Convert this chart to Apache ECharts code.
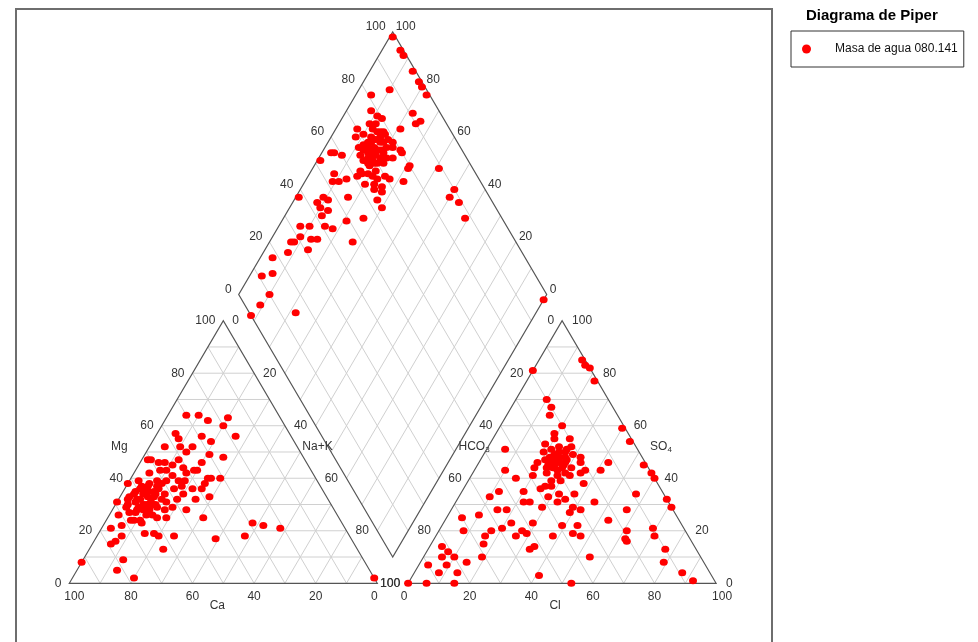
<!DOCTYPE html>
<html><head><meta charset="utf-8">
<script src="https://cdn.jsdelivr.net/npm/echarts@6/dist/echarts.min.js"></script>
<style>html,body{margin:0;padding:0;background:#fff}#c{width:978px;height:642px}</style>
</head><body><div id="c"></div>
<script>
const seriesName = 'Masa de agua 080.141';
const chartTitle = 'Diagrama de Piper';
const tickValues = [0, 20, 40, 60, 80, 100];
const axisNames = { ca: 'Ca', mg: 'Mg', nak: 'Na+K', hco3: ['HCO', '3'], so4: ['SO', '4'], cl: 'Cl' };

// Cation triangle samples: [Ca, Mg, Na+K] (%)
const cations = [[92,8,0],[82,5,13],[78,9,13],[78,2,20],[79,15,6],[77,16,7],[76,21,3],[72,22,6],[74,18,8],[66,19,15],[63,19,18],[62,18,20],[63,13,24],[57,18,25],[44,17,39],[34,18,48],[29,23,48],[26,22,52],[21,21,58],[0,2,98],[44,25,31],[48,28,24],[38,33,29],[31,40,29],[34,40,26],[35,40,25],[37,38,25],[26,48,26],[30,49,21],[34,46,20],[37,43,20],[38,43,19],[41,44,15],[41,47,12],[37,50,13],[38,52,10],[37,55,8],[37,57,6],[34,52,14],[29,56,15],[27,54,19],[18,56,26],[20,60,20],[17,63,20],[24,62,14],[26,64,10],[30,64,6],[43,52,5],[50,47,3],[48,46,6],[46,46,8],[62,38,0],[69,31,0],[71,26,3],[67,29,4],[65,27,8],[65,24,11],[61,27,12],[59,25,16],[56,25,19],[52,29,19],[49,32,19],[46,34,20],[42,36,22],[43,32,25],[39,36,25],[43,39,18],[45,39,16],[48,36,16],[49,39,12],[46,41,13],[53,36,11],[55,34,11],[61,32,7],[62,34,4],[59,36,5],[56,37,7],[53,42,5],[49,43,8],[47,43,10],[44,45,11],[51,47,2],[63,29,8],[62,28,10],[58,31,11],[57,29,14],[62,32,6],[64,33,3],[65,32,3],[67,24,9],[68,24,8],[54,32,14],[58,39,3],[58,37,5],[52,39,9],[45,37,18],[41,42,17],[61,30,9],[58,33,9],[67,27,6],[57,30,13],[57,35,8],[60,26,14],[53,31,16],[55,28,17],[52,34,14],[65,23,12],[60,30,10],[63,31,6],[59,34,7],[56,33,11],[64,28,8],[60,28,12],[57,36,7],[66,30,4],[61,35,4],[55,35,10],[58,30,12],[62,26,12],[53,37,10],[51,38,11],[55,38,7]];

// Anion triangle samples: [HCO3, SO4, Cl] (%)
const anions = [[100,0,0],[94,0,6],[85,0,15],[47,0,53],[56,3,41],[90,7,3],[88,4,8],[84,7,9],[82,4,14],[84,10,6],[82,14,4],[81,12,7],[80,10,10],[77,8,15],[71,10,19],[68,15,17],[66,18,16],[63,20,17],[72,20,8],[70,25,5],[64,26,10],[57,28,15],[54,28,18],[59,21,20],[55,23,22],[56,18,26],[53,20,27],[52,19,29],[54,13,33],[52,14,34],[48,23,29],[47,31,22],[45,31,24],[42,29,29],[45,35,20],[45,40,15],[47,43,10],[43,51,6],[57,33,10],[53,35,12],[44,18,38],[39,22,39],[37,19,44],[34,22,44],[36,10,54],[35,18,47],[34,27,39],[32,29,39],[30,28,42],[24,31,45],[23,24,53],[15,28,57],[19,20,61],[21,17,62],[21,16,63],[9,34,57],[10,21,69],[11,18,71],[10,13,77],[13,8,79],[9,4,87],[7,1,92],[0,29,71],[0,32,68],[0,40,60],[0,42,58],[1,45,54],[1,54,45],[1,59,40],[12,46,42],[16,43,41],[1,77,22],[0,82,18],[1,85,14],[1,83,16],[19,81,0],[20,70,10],[20,67,13],[22,64,14],[20,60,20],[24,57,19],[20,55,25],[21,52,27],[20,48,32],[21,43,36],[24,38,38],[29,34,37],[33,32,35],[34,34,32],[35,37,28],[39,36,25],[39,41,20],[35,46,19],[31,50,19],[29,53,18],[30,48,22],[31,44,25],[31,41,28],[34,42,24],[27,48,25],[28,44,28],[25,48,27],[25,44,31],[27,41,32],[23,42,35],[28,51,21],[25,52,23],[28,42,30],[31,39,30],[38,33,29],[36,31,33],[37,44,19],[25,55,20],[21,46,33],[37,37,26],[28,46,26],[32,45,23],[22,49,29],[30,43,27],[32,47,21],[34,39,27],[26,50,24],[29,47,24],[27,45,28],[25,47,28],[31,46,23],[24,50,26],[33,44,23],[30,45,25],[26,46,28],[23,51,26],[28,49,23]];

// Diamond samples: [Na+K, SO4+Cl] (%)
const diamondPts = [[1,99],[6,99],[8,99],[14,99],[18,99],[20,99],[23,99],[10,88],[22,91],[26,92],[25,90],[21,84],[21,79],[22,78],[26,80],[31,80],[31,79],[32,75],[27,71],[41,89],[50,90],[50,87],[54,89],[59,88],[100,98],[5,81],[8,78],[11,79],[13,80],[12,77],[16,78],[16,76],[13,73],[7,70],[8,68],[13,71],[16,72],[17,75],[17,78],[20,76],[20,74],[18,71],[15,69],[13,66],[11,67],[15,66],[18,67],[20,70],[22,72],[19,65],[16,63],[16,61],[20,62],[23,65],[23,67],[26,67],[24,64],[27,66],[27,63],[30,63],[26,55],[27,47],[21,49],[17,54],[13,57],[11,54],[8,54],[7,60],[4,58],[3,57],[1,52],[9,52],[9,46],[8,43],[10,43],[13,45],[11,47],[12,42],[1,38],[7,33],[10,36],[13,34],[15,41],[18,43],[15,36],[7,27],[8,28],[9,31],[8,24],[14,31],[4,18],[4,11],[7,15],[10,10],[9,5],[22,15],[8,0],[12,75],[10,71],[10,75],[15,74],[16,71],[18,73],[17,67],[17,63],[21,66],[24,76],[25,80],[25,70],[14,70],[19,69],[12,69],[21,68],[18,76],[14,76],[15,77],[19,74],[13,68],[17,70],[20,72],[14,72],[19,78],[16,68],[22,74],[18,69]];

// ---- geometry (ternary -> cartesian data space) ----
const GAP = 10;
const H = Math.sqrt(3) / 2;
function catXY(ca, mg, na) { return [na + mg / 2, mg * H]; }
function anXY(hco3, so4, cl) { return [100 + GAP + cl + so4 / 2, so4 * H]; }
function diaXY(na, sc) {
  const p = 1 - na / 100, q = sc / 100;
  return [100 + GAP / 2 - 50 * p + 50 * q, GAP * H + 100 * H * (p + q)];
}

const FONT = '"Liberation Sans", Arial, sans-serif';
const TXT = '#333';

function renderFrame(params, api) {
  const children = [];
  const GRIDC = '#d0d0d0', EDGE = '#555';
  function line(a, b, color, w) {
    const p = api.coord(a), q = api.coord(b);
    children.push({ type: 'line', shape: { x1: p[0], y1: p[1], x2: q[0], y2: q[1] }, style: { stroke: color, lineWidth: w } });
  }
  function poly(pts) {
    children.push({ type: 'polygon', shape: { points: pts.map(function (d) { return api.coord(d); }) }, style: { fill: 'none', stroke: EDGE, lineWidth: 1.2 } });
  }
  function text(xy, s, dx, dy, align) {
    const p = api.coord(xy);
    children.push({ type: 'text', x: p[0] + dx, y: p[1] + dy, style: { text: s, fill: TXT, font: '12px ' + FONT, align: align, verticalAlign: 'middle', textAlign: align, textVerticalAlign: 'middle' } });
  }
  function subText(xy, parts, dx, dy, align) {
    const p = api.coord(xy);
    children.push({ type: 'text', x: p[0] + dx, y: p[1] + dy, style: {
      text: '{a|' + parts[0] + '}{b|' + parts[1] + '}', fill: TXT, align: align, verticalAlign: 'middle', textAlign: align, textVerticalAlign: 'middle',
      rich: { a: { fontSize: 12, fontFamily: FONT, fill: TXT, textFill: TXT, lineHeight: 14 }, b: { fontSize: 8, fontFamily: FONT, fill: TXT, textFill: TXT, verticalAlign: 'bottom', lineHeight: 10 } }
    } });
  }
  for (let k = 10; k < 100; k += 10) {
    line(catXY(100 - k, k, 0), catXY(0, k, 100 - k), GRIDC, 1);
    line(catXY(100 - k, 0, k), catXY(0, 100 - k, k), GRIDC, 1);
    line(catXY(k, 100 - k, 0), catXY(k, 0, 100 - k), GRIDC, 1);
    line(anXY(100 - k, k, 0), anXY(0, k, 100 - k), GRIDC, 1);
    line(anXY(100 - k, 0, k), anXY(0, 100 - k, k), GRIDC, 1);
    line(anXY(k, 100 - k, 0), anXY(k, 0, 100 - k), GRIDC, 1);
    line(diaXY(k, 0), diaXY(k, 100), GRIDC, 1);
    line(diaXY(0, k), diaXY(100, k), GRIDC, 1);
  }
  poly([catXY(100, 0, 0), catXY(0, 0, 100), catXY(0, 100, 0)]);
  poly([anXY(100, 0, 0), anXY(0, 0, 100), anXY(0, 100, 0)]);
  poly([diaXY(100, 0), diaXY(0, 0), diaXY(0, 100), diaXY(100, 100)]);

  tickValues.forEach(function (v) {
    const s = String(v);
    // cation triangle
    text(catXY(v, 0, 100 - v), s, v === 100 ? 5 : (v === 0 ? -3 : 0), 13, 'center');
    text(catXY(100 - v, v, 0), s, -8, 0, 'right');
    text(catXY(0, 100 - v, v), s, v === 100 ? 3 : 9, 0, 'left');
    // anion triangle
    text(anXY(100 - v, 0, v), s, v === 0 ? -4 : (v === 100 ? 6 : 0), 13, 'center');
    text(anXY(v, 100 - v, 0), s, -8, 0, 'right');
    text(anXY(0, v, 100 - v), s, 10, 0, 'left');
    // diamond upper edges
    text(diaXY(0, v), s, -7, -5, 'right');
    text(diaXY(100 - v, 100), s, 3, -5, 'left');
  });
  text(catXY(50, 50, 0), axisNames.mg, -27, -5, 'center');
  text(catXY(0, 50, 50), axisNames.nak, 2, -5, 'left');
  text(catXY(50, 0, 50), axisNames.ca, -6, 22, 'center');
  subText(anXY(50, 50, 0), axisNames.hco3, -11, -5, 'center');
  subText(anXY(0, 50, 50), axisNames.so4, 11, -5, 'left');
  text(anXY(50, 0, 50), axisNames.cl, -7, 22, 'center');
  return { type: 'group', children: children };
}

const dot = { symbol: 'circle', symbolSize: [8, 7], itemStyle: { color: '#ff0000', opacity: 1 } };
const chart = echarts.init(document.getElementById('c'), null, { renderer: 'canvas' });
chart.setOption({
  animation: false,
  backgroundColor: '#fff',
  title: { text: chartTitle, left: 806, top: 8, padding: 0, textStyle: { fontSize: 15, fontWeight: 'bold', color: '#000', fontFamily: FONT } },
  legend: {
    data: [seriesName], left: 791, top: 31, orient: 'vertical', icon: 'circle', itemWidth: 9, itemHeight: 9,
    borderColor: '#333', borderWidth: 1, padding: [12, 6, 12, 11], selectedMode: false,
    textStyle: { fontSize: 12, color: '#111', fontFamily: FONT, padding: [0, 0, 0, 19] }
  },
  graphic: [{ type: 'rect', shape: { x: 16, y: 9, width: 756, height: 650 }, style: { fill: 'none', stroke: '#6e6e6e', lineWidth: 2 }, z: -10, silent: true }],
  grid: { left: 7.7, top: 7.2, width: 770, height: 606.4 },
  xAxis: { type: 'value', min: -20, max: 230, show: false },
  yAxis: { type: 'value', min: -10, max: 190, show: false },
  series: [
    { type: 'custom', name: 'frame', data: [[0, 0]], renderItem: renderFrame, silent: true, z: 1, clip: false },
    Object.assign({ type: 'scatter', name: seriesName, z: 3, data: cations.map(function (d) { return catXY(d[0], d[1], d[2]); }) }, dot),
    Object.assign({ type: 'scatter', name: seriesName, z: 3, data: anions.map(function (d) { return anXY(d[0], d[1], d[2]); }) }, dot),
    Object.assign({ type: 'scatter', name: seriesName, z: 3, data: diamondPts.map(function (d) { return diaXY(d[0], d[1]); }) }, dot)
  ]
});
</script>
</body></html>
